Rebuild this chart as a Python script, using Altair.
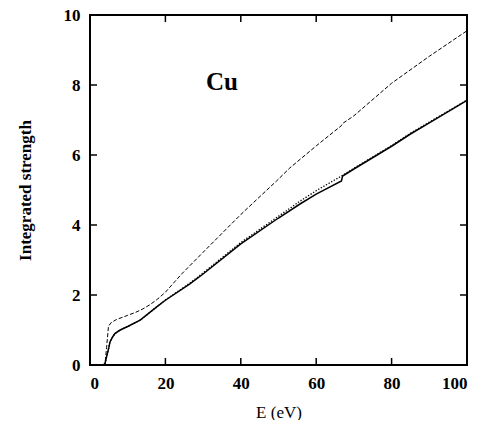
import altair as alt
import pandas as pd

# Upper (dashed) curve
E_upper = [0, 3.5, 4.0, 4.4, 4.9, 5.5, 7.0, 8.8, 10, 12, 14, 16, 18, 20, 24.3, 30, 40, 49.5, 53, 60, 66.7, 67.0, 70, 80, 90, 100]
S_upper = [0, 0, 0.05, 0.5, 1.1, 1.2, 1.3, 1.37, 1.42, 1.5, 1.6, 1.73, 1.89, 2.08, 2.6, 3.22, 4.3, 5.26, 5.63, 6.26, 6.84, 6.9, 7.12, 8.05, 8.82, 9.55]

# Lower (solid) curve
E_solid = [0, 3.0, 3.5, 4.0, 4.4, 5.0, 5.3, 6.0, 6.6, 8.0, 10, 13.3, 17.7, 20, 26.5, 30, 40, 50, 55.7, 60, 66.7, 67.0, 70, 80, 85, 90, 100]
S_solid = [0, 0, 0.0, 0.05, 0.24, 0.5, 0.66, 0.8, 0.9, 1.0, 1.1, 1.28, 1.66, 1.85, 2.32, 2.6, 3.46, 4.2, 4.6, 4.88, 5.26, 5.4, 5.6, 6.25, 6.6, 6.92, 7.56]

# Dotted curve (close to solid)
E_dot = [0, 3.0, 3.5, 4.0, 4.4, 5.0, 5.3, 6.0, 6.6, 8.0, 10, 13.3, 17.7, 20, 26.5, 30, 40, 50, 55.7, 60, 66.7, 70, 80, 85, 90, 100]
S_dot = [0, 0, 0.0, 0.05, 0.24, 0.5, 0.66, 0.8, 0.9, 1.0, 1.1, 1.28, 1.66, 1.86, 2.34, 2.63, 3.5, 4.25, 4.68, 4.98, 5.4, 5.62, 6.27, 6.62, 6.94, 7.57]

x_ticks = [0, 20, 40, 60, 80, 100]
y_ticks = [0, 2, 4, 6, 8, 10]
inner_x_ticks = [20, 40, 60, 80]
inner_y_ticks = [2, 4, 6, 8]

W, H = 377, 350
FONT = "'Times New Roman', Times, 'Liberation Serif', 'DejaVu Serif', serif"

df_up = pd.DataFrame({"E": E_upper, "S": S_upper})
df_solid = pd.DataFrame({"E": E_solid, "S": S_solid})
df_dot = pd.DataFrame({"E": E_dot, "S": S_dot})

xs = alt.Scale(domain=[0, 100], nice=False)
ys = alt.Scale(domain=[0, 10], nice=False)

xaxis = alt.Axis(values=x_ticks, title="E (eV)", labelPadding=10, titlePadding=13,
                 titleFontSize=17, titleFontWeight="normal")
yaxis = alt.Axis(values=y_ticks, title="Integrated strength", labelPadding=10, titlePadding=29,
                 titleFontSize=17, titleFontWeight="bold")

up = alt.Chart(df_up).mark_line(color="black", strokeWidth=1, strokeDash=[4, 2]).encode(
    x=alt.X("E:Q", scale=xs, axis=xaxis),
    y=alt.Y("S:Q", scale=ys, axis=yaxis),
)
dot = alt.Chart(df_dot).mark_line(color="black", strokeWidth=1.3, strokeDash=[1.3, 1.7]).encode(
    x=alt.X("E:Q", scale=xs, axis=xaxis), y=alt.Y("S:Q", scale=ys, axis=yaxis)
)
solid = alt.Chart(df_solid).mark_line(color="black", strokeWidth=1.5).encode(
    x=alt.X("E:Q", scale=xs, axis=xaxis), y=alt.Y("S:Q", scale=ys, axis=yaxis)
)

dfx = pd.DataFrame({"E": inner_x_ticks})
dfy = pd.DataFrame({"S": inner_y_ticks})
tick_b = alt.Chart(dfx).mark_rule(color="black", strokeWidth=1.5).encode(
    x=alt.X("E:Q", scale=xs, axis=xaxis), y=alt.value(H), y2=alt.value(H - 7))
tick_t = alt.Chart(dfx).mark_rule(color="black", strokeWidth=1.5).encode(
    x=alt.X("E:Q", scale=xs, axis=xaxis), y=alt.value(0), y2=alt.value(7))
tick_l = alt.Chart(dfy).mark_rule(color="black", strokeWidth=1.5).encode(
    y=alt.Y("S:Q", scale=ys, axis=yaxis), x=alt.value(0), x2=alt.value(7))
tick_r = alt.Chart(dfy).mark_rule(color="black", strokeWidth=1.5).encode(
    y=alt.Y("S:Q", scale=ys, axis=yaxis), x=alt.value(W), x2=alt.value(W - 7))

frame = alt.Chart(pd.DataFrame({"k": [0]})).mark_rect(
    fill="transparent", stroke="black", strokeWidth=2
).encode(x=alt.value(0), x2=alt.value(W), y=alt.value(0), y2=alt.value(H))

label = alt.Chart(pd.DataFrame({"E": [35], "S": [8.1], "t": ["Cu"]})).mark_text(
    fontSize=25, fontWeight="bold", color="black"
).encode(x=alt.X("E:Q", scale=xs, axis=xaxis), y=alt.Y("S:Q", scale=ys, axis=yaxis), text="t:N")

chart = alt.layer(up, dot, solid, tick_b, tick_t, tick_l, tick_r, frame, label).properties(
    width=W, height=H,
    autosize=alt.AutoSizeParams(type="none"),
    padding={"left": 82, "top": 7, "right": 10, "bottom": 55},
).configure_view(stroke=None).configure(
    background="white", font=FONT
).configure_axis(
    tickSize=0, domain=False, grid=False,
    labelFont=FONT, labelFontSize=17, labelFontWeight="bold", labelColor="black",
    titleFont=FONT, titleColor="black",
).configure_text(font=FONT)

chart.save("out.html", embed_options={"renderer": "svg", "actions": False})
